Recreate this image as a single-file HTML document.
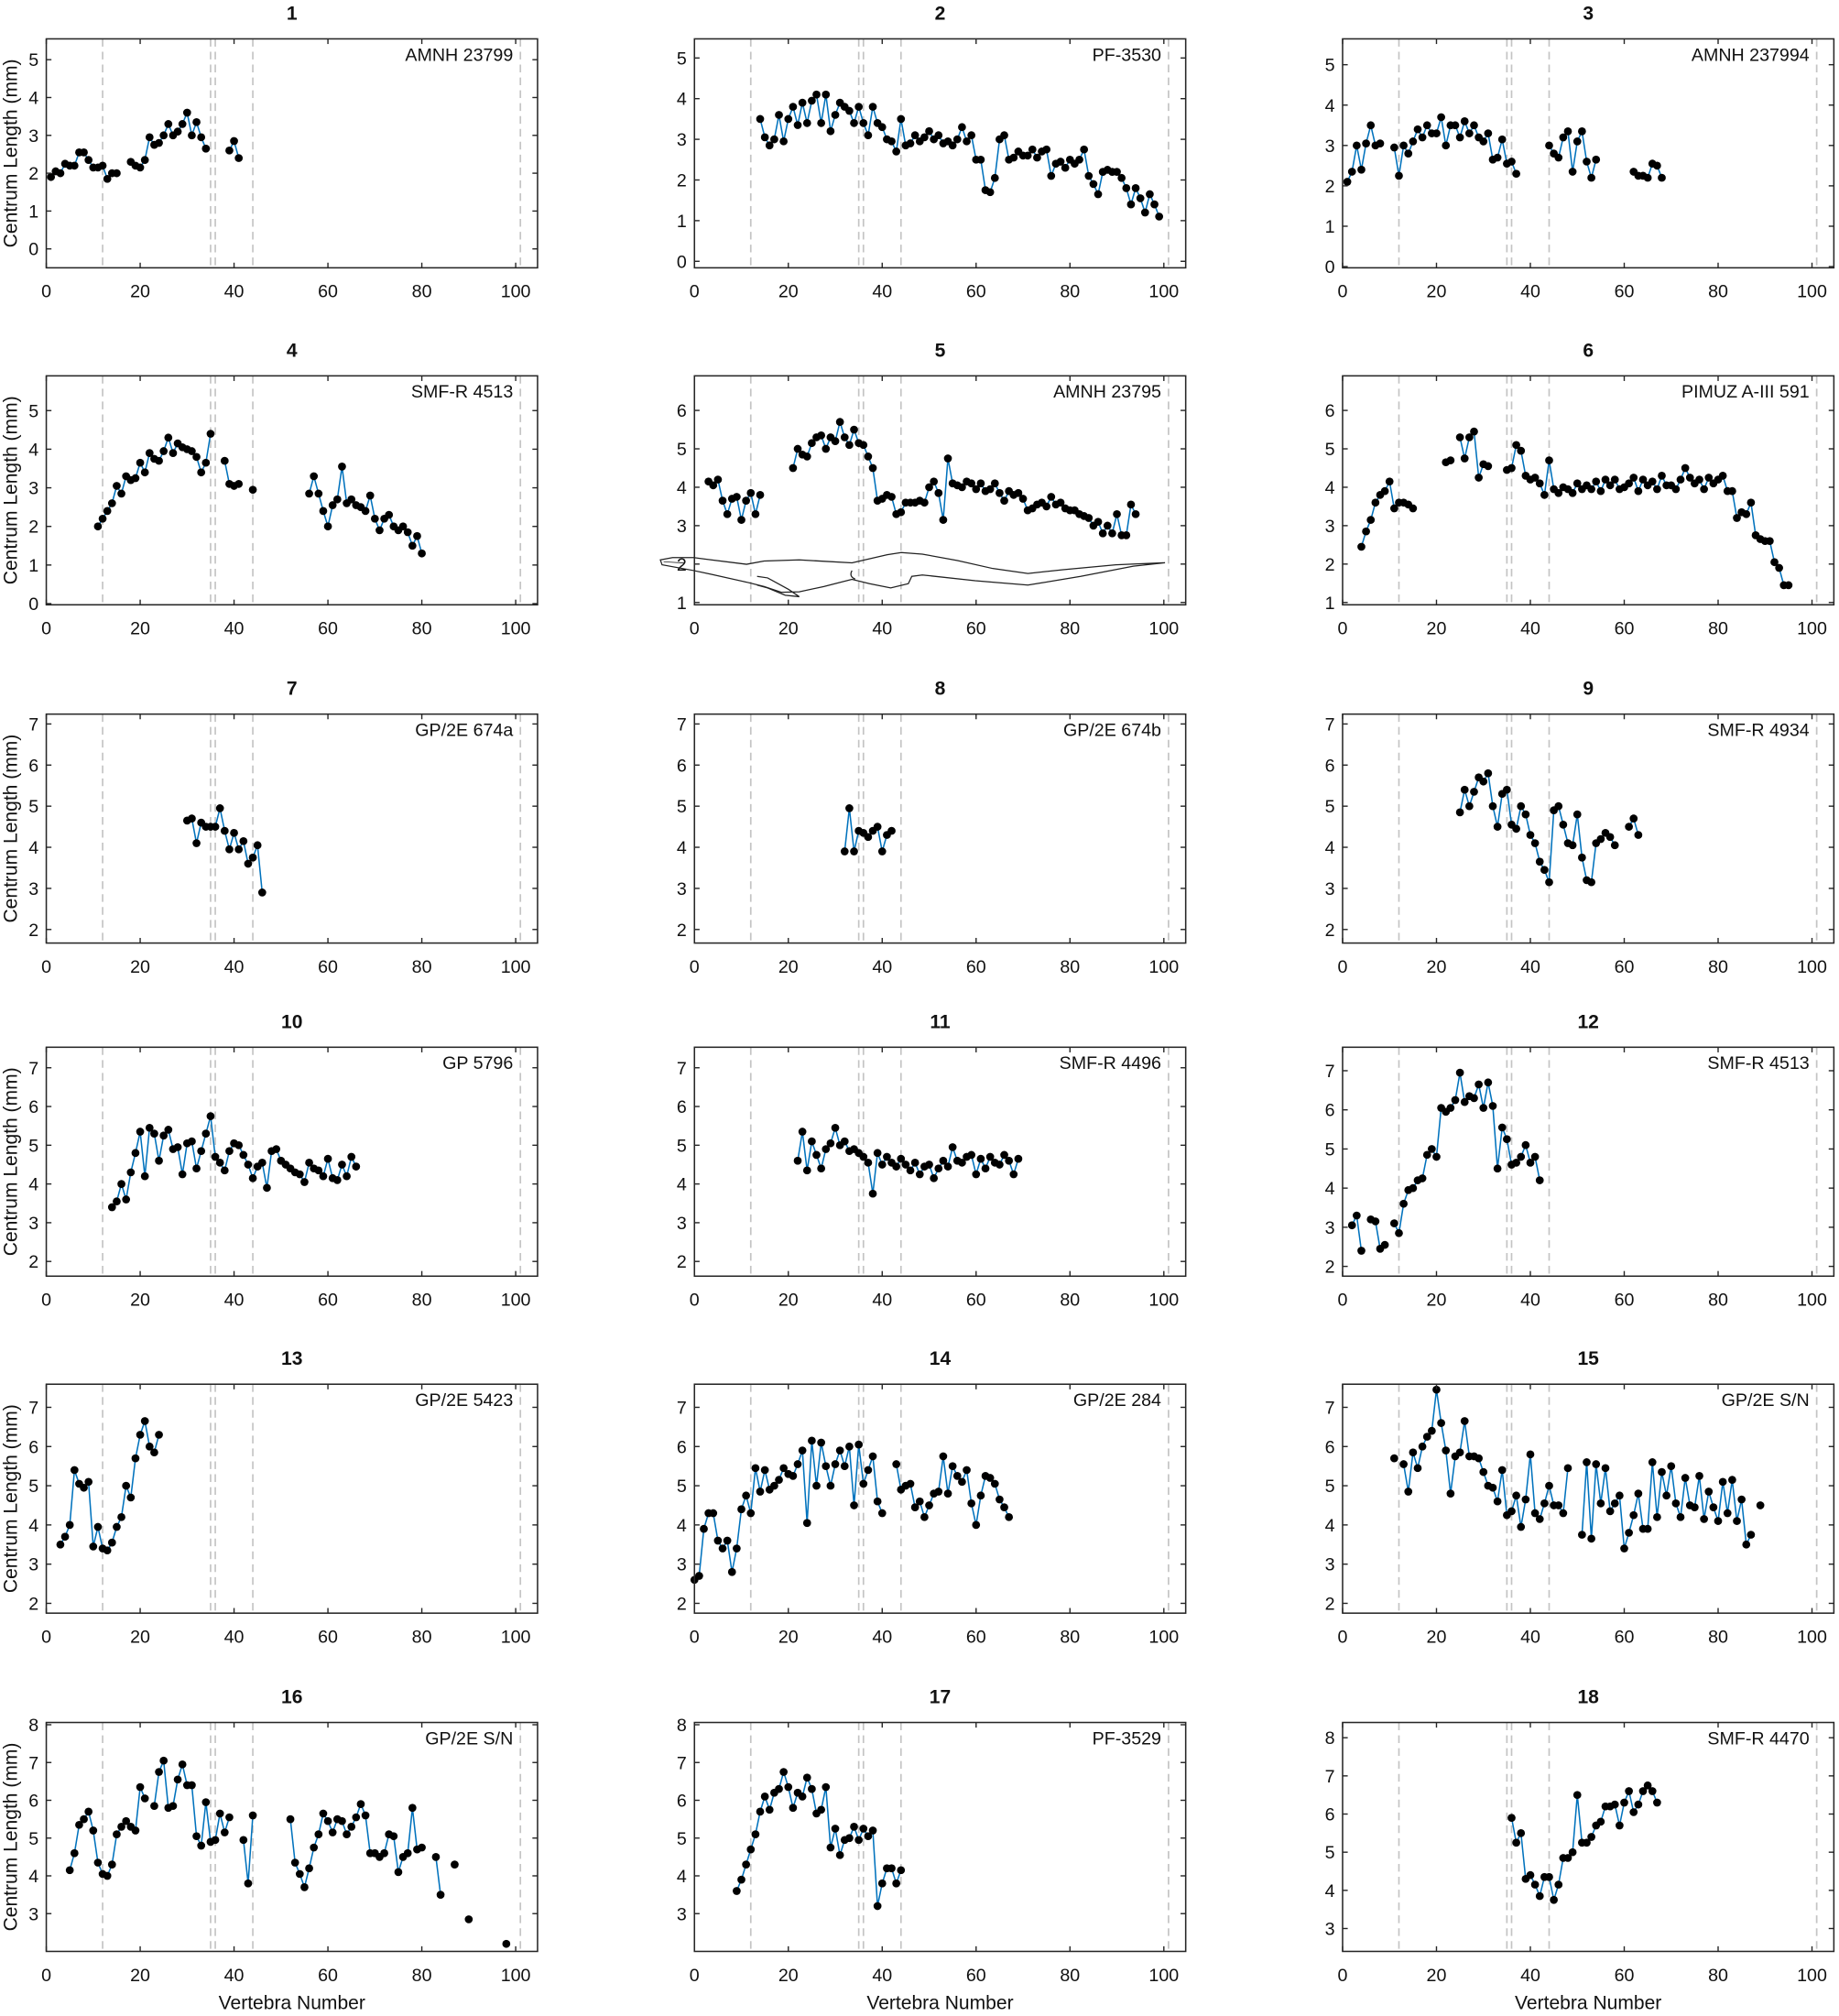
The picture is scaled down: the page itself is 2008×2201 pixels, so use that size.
<!DOCTYPE html>
<html><head><meta charset="utf-8"><style>
html,body{margin:0;padding:0;background:#fff}
svg{display:block}
text{font-family:"Liberation Sans",sans-serif;fill:#111}
</style></head><body>
<svg id="s" width="2008" height="2201" viewBox="0 0 1430 1567" xmlns="http://www.w3.org/2000/svg"></svg>
<script>
const S=document.getElementById('s');
let h='';
const colX=[36,540,1044], W=382, XS=3.65;
const rowB=[208,470,733,992,1254,1517], H=178;
const P=[
 {t:'1',l:'AMNH 23799',y:[-0.5,5.55],tk:[0,1,2,3,4,5],d:[[1,[1.9,2.05,2.0,2.25,2.2,2.2,2.55,2.55,2.35,2.15,2.15,2.2,1.85,2.0,2.0,null,null,2.3,2.2,2.15,2.35,2.95,2.75,2.8,3.0,3.3,3.0,3.1,3.3,3.6,3.0,3.35,2.95,2.65,null,null,null,null,2.6,2.85,2.4]]]},
 {t:'2',l:'PF-3530',y:[-0.16,5.47],tk:[0,1,2,3,4,5],d:[[14,[3.5,3.05,2.85,3.0,3.6,2.95,3.5,3.8,3.35,3.9,3.4,3.95,4.1,3.4,4.1,3.2,3.6,3.9,3.8,3.7,3.4,3.8,3.4,3.1,3.8,3.4,3.3,3.0,2.95,2.7,3.5,2.85,2.9,3.1,2.95,3.05,3.2,3.0,3.1,2.9,2.95,2.85,3.0,3.3,2.95,3.1,2.5,2.5,1.75,1.7,2.05,3.0,3.1,2.5,2.55,2.7,2.6,2.6,2.75,2.55,2.7,2.75,2.1,2.4,2.45,2.3,2.5,2.4,2.5,2.75,2.1,1.9,1.65,2.2,2.25,2.2,2.2,2.05,1.8,1.4,1.8,1.55,1.2,1.65,1.4,1.1]]]},
 {t:'3',l:'AMNH 237994',y:[-0.03,5.64],tk:[0,1,2,3,4,5],d:[[1,[2.1,2.35,3.0,2.4,3.05,3.5,3.0,3.05,null,null,2.95,2.25,3.0,2.8,3.1,3.4,3.2,3.5,3.3,3.3,3.7,3.0,3.5,3.5,3.2,3.6,3.3,3.5,3.2,3.1,3.3,2.65,2.7,3.15,2.55,2.6,2.3]],[44,[3.0,2.8,2.7,3.2,3.35,2.35,3.1,3.35,2.6,2.2,2.65]],[62,[2.35,2.25,2.25,2.2,2.55,2.5,2.2]]]},
 {t:'4',l:'SMF-R 4513',y:[-0.03,5.9],tk:[0,1,2,3,4,5],d:[[11,[2.0,2.2,2.4,2.6,3.05,2.85,3.3,3.2,3.25,3.65,3.4,3.9,3.75,3.7,3.95,4.3,3.9,4.15,4.05,4.0,3.95,3.8,3.4,3.65,4.4,null,null,3.7,3.1,3.05,3.1,null,null,2.95]],[56,[2.85,3.3,2.85,2.4,2.0,2.55,2.7,3.55,2.6,2.7,2.55,2.5,2.4,2.8,2.2,1.9,2.2,2.3,2.0,1.9,2.0,1.85,1.5,1.75,1.3]]]},
 {t:'5',l:'AMNH 23795',y:[0.94,6.9],tk:[1,2,3,4,5,6],rep:1,d:[[3,[4.15,4.05,4.2,3.65,3.3,3.7,3.75,3.15,3.65,3.85,3.3,3.8]],[21,[4.5,5.0,4.85,4.8,5.15,5.3,5.35,5.0,5.3,5.2,5.7,5.3,5.1,5.5,5.15,5.1,4.8,4.5,3.65,3.7,3.8,3.75,3.3,3.35,3.6,3.6,3.6,3.65,3.6,4.0,4.15,3.85,3.15,4.75,4.1,4.05,4.0,4.15,4.1,3.95,4.1,3.9,3.95,4.1,3.85,3.65,3.9,3.8,3.85,3.7,3.4,3.45,3.55,3.6,3.5,3.75,3.55,3.6,3.45,3.4,3.4,3.3,3.25,3.2,3.0,3.1,2.8,3.0,2.8,3.3,2.75,2.75,3.55,3.3]]]},
 {t:'6',l:'PIMUZ A-III 591',y:[0.94,6.9],tk:[1,2,3,4,5,6],d:[[4,[2.45,2.85,3.15,3.6,3.8,3.9,4.15,3.45,3.6,3.6,3.55,3.45]],[22,[4.65,4.7,null,5.3,4.75,5.3,5.45,4.25,4.6,4.55]],[35,[4.45,4.5,5.1,4.95,4.3,4.2,4.25,4.1,3.8,4.7,3.95,3.85,4.0,3.95,3.85,4.1,3.95,4.05,3.95,4.15,3.9,4.2,4.05,4.2,3.95,4.0,4.1,4.25,3.9,4.2,4.05,4.15,3.95,4.3,4.05,4.05,3.95,4.2,4.5,4.25,4.1,4.2,3.95,4.25,4.1,4.2,4.3,3.9,3.9,3.2,3.35,3.3,3.6,2.75,2.65,2.6,2.6,2.05,1.9,1.45,1.45]]]},
 {t:'7',l:'GP/2E 674a',y:[1.67,7.24],tk:[2,3,4,5,6,7],d:[[30,[4.65,4.7,4.1,4.6,4.5,4.5,4.5,4.95,4.4,3.95,4.35,3.95,4.15,3.6,3.75,4.05,2.9]]]},
 {t:'8',l:'GP/2E 674b',y:[1.67,7.24],tk:[2,3,4,5,6,7],d:[[32,[3.9,4.95,3.9,4.4,4.35,4.25,4.4,4.5,3.9,4.3,4.4]]]},
 {t:'9',l:'SMF-R 4934',y:[1.67,7.24],tk:[2,3,4,5,6,7],d:[[25,[4.85,5.4,5.0,5.35,5.7,5.6,5.8,5.0,4.5,5.3,5.4,4.55,4.45,5.0,4.8,4.3,4.1,3.65,3.45,3.15,4.9,5.0,4.55,4.1,4.05,4.8,3.75,3.2,3.15,4.1,4.2,4.35,4.25,4.05,null,null,4.5,4.7,4.3]]]},
 {t:'10',l:'GP 5796',y:[1.62,7.53],tk:[2,3,4,5,6,7],d:[[14,[3.4,3.55,4.0,3.6,4.3,4.8,5.35,4.2,5.45,5.3,4.6,5.25,5.4,4.9,4.95,4.25,5.05,5.1,4.4,4.85,5.3,5.75,4.7,4.55,4.35,4.85,5.05,5.0,4.75,4.5,4.15,4.45,4.55,3.9,4.85,4.9,4.6,4.5,4.4,4.3,4.25,4.05,4.55,4.4,4.35,4.2,4.65,4.15,4.1,4.5,4.2,4.7,4.45]]]},
 {t:'11',l:'SMF-R 4496',y:[1.62,7.53],tk:[2,3,4,5,6,7],d:[[22,[4.6,5.35,4.35,5.1,4.75,4.4,4.9,5.05,5.45,5.0,5.1,4.85,4.9,4.8,4.7,4.55,3.75,4.8,4.5,4.7,4.55,4.45,4.65,4.5,4.35,4.55,4.25,4.45,4.5,4.15,4.4,4.6,4.45,4.95,4.6,4.55,4.7,4.75,4.25,4.65,4.4,4.7,4.55,4.5,4.75,4.6,4.25,4.65]]]},
 {t:'12',l:'SMF-R  4513',y:[1.75,7.6],tk:[2,3,4,5,6,7],d:[[2,[3.05,3.3,2.4,null,3.2,3.15,2.45,2.55,null,3.1,2.85,3.6,3.95,4.0,4.2,4.25,4.85,5.0,4.8,6.05,5.95,6.05,6.25,6.95,6.2,6.35,6.3,6.65,6.05,6.7,6.1,4.5,5.55,5.25,4.6,4.65,4.8,5.1,4.65,4.8,4.2]]]},
 {t:'13',l:'GP/2E 5423',y:[1.75,7.59],tk:[2,3,4,5,6,7],d:[[3,[3.5,3.7,4.0,5.4,5.05,4.95,5.1,3.45,3.95,3.4,3.35,3.55,3.95,4.2,5.0,4.7,5.7,6.3,6.65,6.0,5.85,6.3]]]},
 {t:'14',l:'GP/2E 284',y:[1.75,7.59],tk:[2,3,4,5,6,7],d:[[0,[2.6,2.7,3.9,4.3,4.3,3.6,3.4,3.6,2.8,3.4,4.4,4.75,4.3,5.45,4.85,5.4,4.9,5.0,5.15,5.45,5.3,5.25,5.55,5.9,4.05,6.15,5.0,6.1,5.5,5.0,5.55,5.9,5.5,6.0,4.5,6.05,5.05,5.4,5.75,4.6,4.3,null,null,5.55,4.9,5.0,5.05,4.45,4.6,4.2,4.5,4.8,4.85,5.75,4.8,5.5,5.25,5.1,5.4,4.55,4.0,4.75,5.25,5.2,5.05,4.65,4.45,4.2]]]},
 {t:'15',l:'GP/2E S/N',y:[1.75,7.59],tk:[2,3,4,5,6,7],d:[[11,[5.7,null,5.55,4.85,5.85,5.45,6.0,6.25,6.4,7.45,6.6,5.9,4.8,5.75,5.85,6.65,5.75,5.75,5.7,5.35,5.0,4.95,4.6,5.4,4.25,4.35,4.75,3.95,4.65,5.8,4.3,4.15,4.55,5.0,4.5,4.5,4.3,5.45,null,null,3.75,5.6,3.65,5.55,4.55,5.45,4.35,4.55,4.75,3.4,3.8,4.25,4.8,3.9,3.9,5.6,4.2,5.35,4.75,5.5,4.55,4.2,5.2,4.5,4.45,5.25,4.15,4.85,4.45,4.1,5.1,4.3,5.15,4.1,4.65,3.5,3.75,null,4.5]]]},
 {t:'16',l:'GP/2E S/N',y:[2.0,8.06],tk:[3,4,5,6,7,8],d:[[5,[4.15,4.6,5.35,5.5,5.7,5.2,4.35,4.05,4.0,4.3,5.1,5.3,5.45,5.3,5.2,6.35,6.05,null,5.85,6.75,7.05,5.8,5.85,6.55,6.95,6.4,6.4,5.05,4.8,5.95,4.9,4.95,5.65,5.15,5.55,null,null,4.95,3.8,5.6]],[52,[5.5,4.35,4.05,3.7,4.2,4.75,5.1,5.65,5.45,5.15,5.5,5.45,5.1,5.3,5.55,5.9,5.6,4.6,4.6,4.5,4.6,5.1,5.05,4.1,4.5,4.6,5.8,4.7,4.75,null,null,4.5,3.5,null,null,4.3]],[90,[2.85]],[98,[2.2]]]},
 {t:'17',l:'PF-3529',y:[2.0,8.06],tk:[3,4,5,6,7,8],d:[[9,[3.6,3.9,4.3,4.7,5.1,5.7,6.1,5.75,6.2,6.3,6.75,6.35,5.8,6.2,6.1,6.6,6.3,5.65,5.75,6.35,4.75,5.25,4.55,4.95,5.0,5.3,4.95,5.25,5.05,5.2,3.2,3.8,4.2,4.2,3.8,4.15]]]},
 {t:'18',l:'SMF-R  4470',y:[2.4,8.4],tk:[3,4,5,6,7,8],d:[[36,[5.9,5.25,5.5,4.3,4.4,4.15,3.85,4.35,4.35,3.75,4.15,4.85,4.85,5.0,6.5,5.25,5.25,5.4,5.7,5.8,6.2,6.2,6.25,5.7,6.3,6.6,6.05,6.25,6.6,6.75,6.6,6.3]]]}
];
P.forEach((p,i)=>{
 const c=i%3,r=Math.floor(i/3),x0=colX[c],bot=rowB[r],top=bot-H,right=x0+W;
 const X=v=>x0+v*XS, Y=v=>bot-(v-p.y[0])/(p.y[1]-p.y[0])*H;
 h+=`<text x="${x0+W/2}" y="${top-15}" font-size="15" font-weight="bold" text-anchor="middle">${p.t}</text>`;
 [12,35,36,44,101].forEach(v=>{h+=`<line x1="${X(v)}" y1="${top}" x2="${X(v)}" y2="${bot}" stroke="#c4c4c4" stroke-width="1.2" stroke-dasharray="6,4"/>`;});
 if(p.rep){
  const dy=bot-470;
  h+=`<g transform="translate(0,${dy})" fill="none" stroke="#222" stroke-width="0.9">
  <path d="M513.5 435.1 L523 433.3 L539.5 433.3 L553.1 435.1 L580.5 438.5 L594.2 436 L621.5 435.1 L662.5 437.4 L689.9 431.1 L700.8 429.4 L717.2 430.6 L744.6 435.6 L772 441.8 L799.3 445.7 L826.6 442.7 L867.7 438.9 L905.9 437.3 L881.3 440 L840.3 447.9 L799.3 454.7 L758.3 451.3 L717.2 446.8 L709 447.9 L706.3 453.6 L692.6 456.9 L676.2 453.6 L662.5 450.2 L640.6 455.8 L621.5 459.9 L607.8 460.3 L594.2 455.8 L580.5 452.4 L553.1 446.3 L539.5 443.4 L514.8 438.9 Z"/>
  <path d="M588.7 447.9 L596.9 449.1 L613.3 458.1 L621.5 463.7 L610.6 462.6 L596.9 456.9 L588.7 454.7"/>
  <path d="M662.5 443.4 Q660 448 665 450"/>
  <path d="M516 436.5 L532 437.5" stroke-width="0.6"/></g>`;
 }
 p.d.forEach(([s,arr])=>{
  let seg=[];const segs=[];
  arr.forEach((v,k)=>{if(v==null){if(seg.length)segs.push(seg);seg=[];}else seg.push([X(s+k),Y(v)]);});
  if(seg.length)segs.push(seg);
  segs.forEach(g=>{ if(g.length>1)h+=`<polyline points="${g.map(q=>q.join(',')).join(' ')}" fill="none" stroke="#0072BD" stroke-width="1.1"/>`;});
  segs.forEach(g=>g.forEach(q=>{h+=`<circle cx="${q[0]}" cy="${q[1]}" r="3.1" fill="#000"/>`;}));
 });
 h+=`<rect x="${x0}" y="${top}" width="${W}" height="${H}" fill="none" stroke="#262626" stroke-width="1.1"/>`;
 [0,20,40,60,80,100].forEach(v=>{const xx=X(v);h+=`<line x1="${xx}" y1="${bot}" x2="${xx}" y2="${bot-4}" stroke="#262626"/><line x1="${xx}" y1="${top}" x2="${xx}" y2="${top+4}" stroke="#262626"/><text x="${xx}" y="${bot+23}" font-size="14" text-anchor="middle">${v}</text>`;});
 p.tk.forEach(v=>{const yy=Y(v);h+=`<line x1="${x0}" y1="${yy}" x2="${x0+4}" y2="${yy}" stroke="#262626"/><line x1="${right}" y1="${yy}" x2="${right-4}" y2="${yy}" stroke="#262626"/><text x="${x0-6}" y="${yy+5}" font-size="14" text-anchor="end">${v}</text>`;});
 h+=`<text x="${X(100)-2}" y="${top+17}" font-size="14" text-anchor="end">${p.l}</text>`;
 if(c==0)h+=`<text transform="translate(13,${top+H/2}) rotate(-90)" font-size="15" text-anchor="middle">Centrum Length (mm)</text>`;
 if(r==5)h+=`<text x="${x0+W/2}" y="1562" font-size="15" text-anchor="middle">Vertebra Number</text>`;
});
S.innerHTML=h;
</script>
</body></html>
